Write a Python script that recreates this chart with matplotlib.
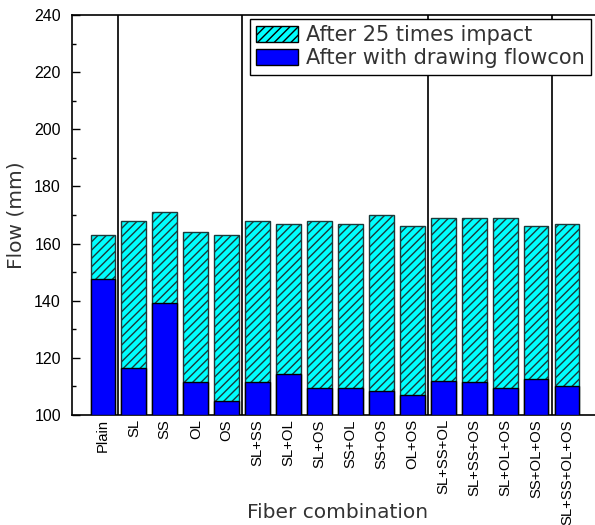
import matplotlib.pyplot as plt
import matplotlib.patches as mpatches

# fiber combinations and flow values (mm)
combos = ["Plain", "SL", "SS", "OL", "OS",
          "SL+SS", "SL+OL", "SL+OS", "SS+OL", "SS+OS", "OL+OS",
          "SL+SS+OL", "SL+SS+OS", "SL+OL+OS", "SS+OL+OS", "SL+SS+OL+OS"]
impact_flow = [163, 168, 171, 164, 163,
               168, 167, 168, 167, 170, 166,
               169, 169, 169, 166, 167]
drawing_flow = [147.5, 116.3, 139.1, 111.4, 104.9,
                111.4, 114.5, 109.3, 109.3, 108.4, 106.9,
                111.9, 111.4, 109.3, 112.5, 110.0]
group_breaks = [1.5, 5.5, 11.5, 15.5]

fig = plt.figure(figsize=(5.95, 5.25), dpi=100)
ax = fig.add_axes([0.121, 0.2095, 0.884, 0.762])

x = list(range(1, len(combos) + 1))
base = 100
ax.bar(x, [v - base for v in impact_flow], bottom=base, width=0.8,
       color="#00FFFF", edgecolor="#1a3a3a", hatch="////", linewidth=1.0, zorder=2)
ax.bar(x, [v - base for v in drawing_flow], bottom=base, width=0.8,
       color="#0000FF", edgecolor="black", linewidth=1.0, zorder=3)

for xb in group_breaks:
    ax.axvline(xb, color="#202020", linewidth=1.4, zorder=1)

ax.set_xlim(0, 17)
ax.set_ylim(100, 240)
ax.set_yticks(range(100, 241, 20))
ax.set_yticks(range(110, 240, 20), minor=True)
ax.set_xticks(x)
ax.set_xticklabels(combos, rotation=90, fontsize=10.7, family="Liberation Sans")
for lab in ax.get_yticklabels():
    lab.set_family("Liberation Sans")
ax.tick_params(axis="y", which="major", direction="in", length=6, width=1,
               labelsize=11.5, pad=8)
ax.tick_params(axis="y", which="minor", direction="in", length=3, width=1)
ax.tick_params(axis="x", length=0, pad=3)
for sp in ax.spines.values():
    sp.set_linewidth(1.2)
ax.spines["right"].set_visible(False)

ax.set_xlabel("Fiber combination", fontsize=14.5, color="#333333", va="center")
ax.xaxis.set_label_coords(0.504, -0.2425)
ax.set_ylabel("Flow (mm)", fontsize=14.5, color="#333333", labelpad=6)

handles = [mpatches.Patch(facecolor="#00FFFF", edgecolor="black", hatch="////",
                          label="After 25 times impact"),
           mpatches.Patch(facecolor="#0000FF", edgecolor="black",
                          label="After with drawing flowcon")]
leg = ax.legend(handles=handles, loc="upper right", bbox_to_anchor=(0.993, 0.9638),
                bbox_transform=fig.transFigure, borderaxespad=0, fontsize=15,
                fancybox=False, framealpha=1, edgecolor="black",
                handlelength=2.0, handleheight=0.75, handletextpad=0.4,
                labelspacing=0.15, borderpad=0.3)
leg.get_frame().set_linewidth(1.0)
for t in leg.get_texts():
    t.set_color("#333333")
leg.set_zorder(5)

fig.savefig("out.png", dpi=100)
